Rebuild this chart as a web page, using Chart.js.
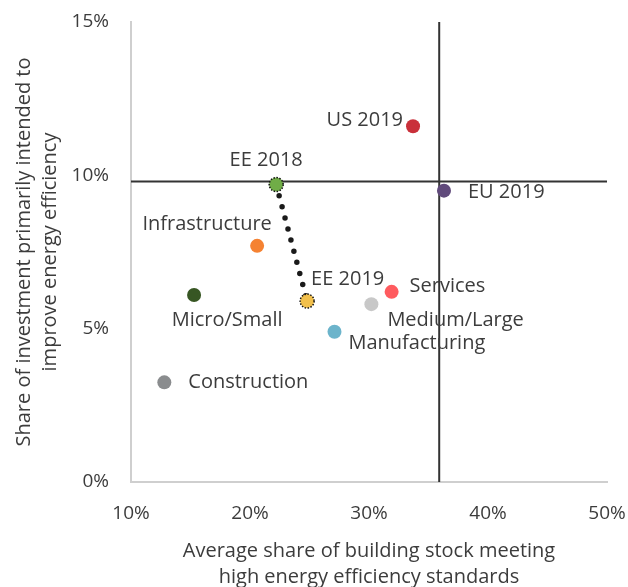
<!DOCTYPE html>
<html>
<head>
<meta charset="utf-8">
<script src="https://cdn.jsdelivr.net/npm/chart.js@4.4.1/dist/chart.umd.min.js"></script>
<style>
  html, body { margin: 0; padding: 0; background: #fff; }
  #wrap { width: 628px; height: 587px; }
</style>
</head>
<body>
<div id="wrap"><canvas id="scatterChart"></canvas></div>
<script>
// data (percent)
const names = ['US 2019', 'EU 2019', 'EE 2018', 'Infrastructure', 'Micro/Small', 'EE 2019', 'Construction', 'Services', 'Medium/Large', 'Manufacturing']
const buildingShare = [33.7, 36.3, 22.2, 20.6, 15.3, 24.8, 12.8, 31.9, 30.2, 27.1]
const investShare = [11.6, 9.5, 9.7, 7.7, 6.1, 5.9, 3.25, 6.2, 5.8, 4.9]
const pointColors = ['#C9303A', '#604A7B', '#70AD47', '#F58232', '#375623', '#F2C04C', '#8A8C8E', '#FF5B5F', '#C8C8C8', '#6CB4CB']
const xTicks = [10, 20, 30, 40, 50]
const yTicks = [0, 5, 10, 15]
const avgX = 35.9   // vertical reference line
const avgY = 9.8    // horizontal reference line

const textColor = '#3c3c3c'
const fontFamily = "'Open Sans', 'Noto Sans', sans-serif"

// label placement, pixel offset from the point
const labelPos = {
    'US 2019': [-10, -6, 'right'],
    'EU 2019': [24, 2, 'left'],
    'EE 2018': [-10, -24, 'center'],
    'Infrastructure': [-50, -22, 'center'],
    'Micro/Small': [33, 25, 'center'],
    'EE 2019': [4, -22, 'left'],
    'Construction': [24, 0, 'left'],
    'Services': [18, -6, 'left'],
    'Medium/Large': [16, 16, 'left'],
    'Manufacturing': [14, 12, 'left']
}

const labelPlugin = {
    id: 'pointLabels',
    afterDatasetsDraw(chart) {
        const ctx = chart.ctx
        const meta = chart.getDatasetMeta(0)
        ctx.save()
        // dotted rims on the EE markers
        ;['EE 2018', 'EE 2019'].forEach(n => {
            const el = meta.data[names.indexOf(n)]
            ctx.beginPath()
            ctx.setLineDash([1.5, 1.5])
            ctx.lineWidth = 1.5
            ctx.strokeStyle = '#111'
            ctx.arc(el.x, el.y, 7, 0, Math.PI * 2)
            ctx.stroke()
        })
        ctx.setLineDash([])
        ctx.font = '20px ' + fontFamily
        ctx.fillStyle = textColor
        ctx.textBaseline = 'middle'
        meta.data.forEach((el, i) => {
            const p = labelPos[names[i]]
            ctx.textAlign = p[2]
            ctx.fillText(names[i], el.x + p[0], el.y + p[1])
        })
        ctx.restore()
    }
}

const ctx = document.getElementById('scatterChart').getContext('2d')
const scatterChart = new Chart(ctx, {
    type: 'scatter',
    data: {
        datasets: [{
            data: buildingShare.map((x, i) => ({x: x, y: investShare[i]})),
            backgroundColor: pointColors,
            borderWidth: 0,
            pointRadius: 7,
            order: 0
        }, {
            // EE 2018 -> EE 2019 connector
            type: 'line',
            data: ['EE 2018', 'EE 2019'].map(n => ({x: buildingShare[names.indexOf(n)], y: investShare[names.indexOf(n)]})),
            borderColor: '#1a1a1a',
            borderWidth: 5.5,
            borderDash: [0, 11.5],
            borderCapStyle: 'round',
            pointRadius: 0,
            fill: false,
            order: 1
        }, {
            type: 'line',
            data: [{x: avgX, y: 0}, {x: avgX, y: 15}],
            borderColor: '#333',
            borderWidth: 2,
            pointRadius: 0,
            fill: false,
            order: 2
        }, {
            type: 'line',
            data: [{x: 10, y: avgY}, {x: 50, y: avgY}],
            borderColor: '#333',
            borderWidth: 2,
            pointRadius: 0,
            fill: false,
            order: 2
        }]
    },
    options: {
        responsive: true,
        maintainAspectRatio: false,
        animation: false,
        layout: {
            padding: {top: 22, right: 21, left: 0, bottom: 0}
        },
        plugins: {
            legend: {display: false},
            tooltip: {enabled: false}
        },
        scales: {
            x: {
                type: 'linear',
                min: 10,
                max: 50,
                afterBuildTicks: s => { s.ticks = xTicks.map(v => ({value: v})) },
                afterFit: s => { s.height = 105; s.paddingLeft = 0; s.paddingRight = 0 },
                grid: {display: false, drawTicks: false},
                border: {display: true, color: '#CFCFCF', width: 2},
                ticks: {
                    padding: 20,
                    color: textColor,
                    font: {family: fontFamily, size: 19},
                    callback: v => v + '%'
                },
                title: {
                    display: true,
                    text: ['Average share of building stock meeting', 'high energy efficiency standards'],
                    color: textColor,
                    font: {family: fontFamily, size: 20, lineHeight: 1.3},
                    padding: {top: 0, bottom: -3}
                }
            },
            y: {
                type: 'linear',
                min: 0,
                max: 15,
                afterBuildTicks: s => { s.ticks = yTicks.map(v => ({value: v})) },
                afterFit: s => { s.width = 131; s.paddingTop = 0; s.paddingBottom = 0 },
                grid: {display: false, drawTicks: false},
                border: {display: true, color: '#CFCFCF', width: 2},
                ticks: {
                    padding: 22,
                    color: textColor,
                    font: {family: fontFamily, size: 19},
                    callback: v => v + '%'
                },
                title: {
                    display: true,
                    text: ['Share of investment primarily intended to', 'improve energy efficiency'],
                    color: textColor,
                    font: {family: fontFamily, size: 20, lineHeight: 1.3},
                    padding: {top: 11, bottom: 0}
                }
            }
        }
    },
    plugins: [labelPlugin]
})
</script>
</body>
</html>
